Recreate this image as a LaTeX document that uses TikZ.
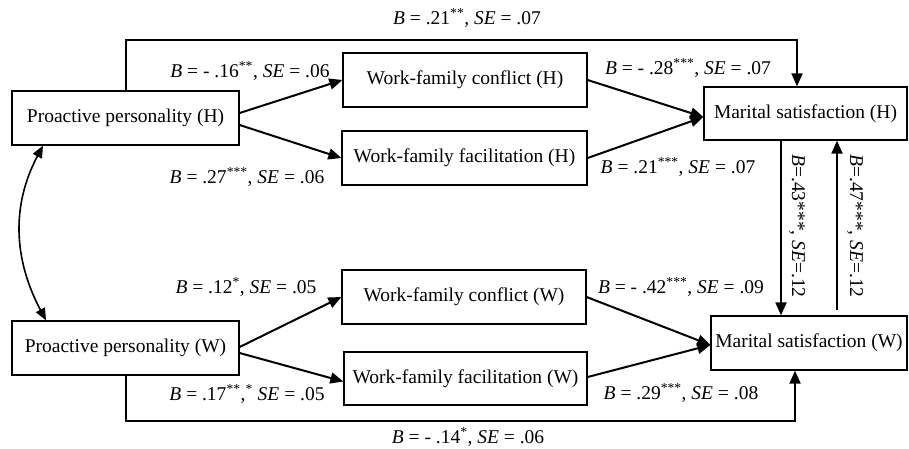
\documentclass[tikz,border=0pt]{standalone}
\usepackage{fontspec}
\setmainfont{Liberation Serif}
\usetikzlibrary{arrows.meta}
\begin{document}
\begin{tikzpicture}[x=1pt,y=1pt,
  box/.style={draw, line width=1.3pt, inner sep=0pt, minimum height=54pt, font=\fontsize{19.5}{22}\selectfont},
  lab/.style={inner sep=0pt, font=\fontsize{19.5}{22}\selectfont},
  arr/.style={line width=2pt, -{Triangle[length=13pt,width=11pt]}},
  ]
\useasboundingbox (0,0) rectangle (909,-448);
% boxes
\node[box, minimum width=227pt] (PPH) at (125.5,-118) {Proactive personality (H)};
\node[box, minimum width=244pt] (WFCH) at (465,-80) {Work-family conflict (H)};
\node[box, minimum width=245pt] (WFFH) at (464.5,-158) {Work-family facilitation (H)};
\node[box, minimum width=203pt, minimum height=53pt] (MSH) at (805.5,-113.5) {Marital satisfaction (H)};
\node[box, minimum width=227pt] (PPW) at (125.5,-348) {Proactive personality (W)};
\node[box, minimum width=244pt] (WFCW) at (464,-297) {Work-family conflict (W)};
\node[box, minimum width=243pt, minimum height=53pt] (WFFW) at (465.5,-378.5) {Work-family facilitation (W)};
\node[box, minimum width=196pt] (MSW) at (809,-343) {Marital satisfaction (W)};
% helper coordinates
\coordinate (tc) at (0,-40);
\coordinate (bc) at (0,-421);
\coordinate (upstart) at (837,-310);
% arrows H
\draw[arr] ([yshift=5pt]PPH.east) -- (WFCH.west);
\draw[arr] ([yshift=-7pt]PPH.east) -- (WFFH.west);
\draw[arr] (WFCH.east) -- ([yshift=-3.5pt]MSH.west);
\draw[arr] (WFFH.east) -- ([yshift=-3.5pt]MSH.west);
% arrows W
\draw[arr] ([yshift=1pt]PPW.east) -- (WFCW.west);
\draw[arr] ([yshift=-5pt]PPW.east) -- ([yshift=-3pt]WFFW.west);
\draw[arr] (WFCW.east) -- ([yshift=-2pt]MSW.west);
\draw[arr] ([yshift=1.5pt]WFFW.east) -- ([yshift=-2pt]MSW.west);
% direct paths
\draw[arr] (PPH.north) -- (PPH.north |- tc) -| ([xshift=-8.5pt]MSH.north);
\draw[arr] (PPW.south) -- (PPW.south |- bc) -| ([xshift=-14pt]MSW.south);
% cross paths
\draw[arr] ([xshift=-24.5pt]MSH.south) -- ([xshift=-24.5pt]MSH.south |- MSW.north);
\draw[arr] (upstart) -- (upstart |- MSH.south);
% covariance
\draw[line width=1.6pt, {Triangle[length=12pt,width=10pt]}-{Triangle[length=12pt,width=10pt]}]
  ([xshift=-82.5pt]PPH.south) to[out=242,in=118] ([xshift=-79.5pt]PPW.north);
% labels
\node[lab] (ltop) at (467,-18) {\textit{B} = .21\textsuperscript{**}, \textit{SE} = .07};
\node[lab] (l1) at (250,-71) {\textit{B} = - .16\textsuperscript{**}, \textit{SE} = .06};
\node[lab] (l2) at (247,-177) {\textit{B} = .27\textsuperscript{***}, \textit{SE} = .06};
\node[lab] (l3) at (688,-68) {\textit{B} = - .28\textsuperscript{***}, \textit{SE} = .07};
\node[lab] (l4) at (678,-167) {\textit{B} = .21\textsuperscript{***}, \textit{SE} = .07};
\node[lab] (l5) at (246,-287) {\textit{B} = .12\textsuperscript{*}, \textit{SE} = .05};
\node[lab] (l6) at (247,-394) {\textit{B} = .17\textsuperscript{**},\textsuperscript{*} \textit{SE} = .05};
\node[lab] (l7) at (681,-287) {\textit{B} = - .42\textsuperscript{***}, \textit{SE} = .09};
\node[lab] (l8) at (681,-393) {\textit{B} = .29\textsuperscript{***}, \textit{SE} = .08};
\node[lab] (lbot) at (468,-437) {\textit{B} = - .14\textsuperscript{*}, \textit{SE} = .06};
\node[lab, rotate=-90] (lv1) at (797,-226) {\textit{B}=.43***, \textit{SE}=.12};
\node[lab, rotate=-90] (lv2) at (855,-226) {\textit{B}=.47***, \textit{SE}=.12};
\end{tikzpicture}
\end{document}
